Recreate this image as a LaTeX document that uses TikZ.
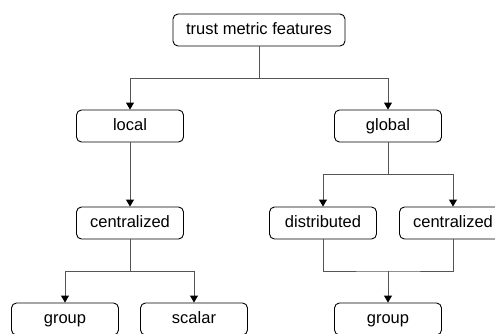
\documentclass[tikz,border=0pt]{standalone}
\usepackage{fontspec}
\setmainfont{Liberation Sans}
\usetikzlibrary{arrows.meta,positioning}
\definecolor{linegray}{HTML}{555555}
\tikzset{
	box/.style={draw=black, line width=0.9pt, rounded corners=5pt, fill=white,
		minimum width=107pt, minimum height=32pt, inner sep=0pt,
		text height=12pt, text depth=3.5pt,
		font=\fontsize{16.5}{20}\selectfont},
	wide/.style={minimum width=172pt},
	link/.style={draw=linegray, line width=1pt},
	>={Triangle[length=7pt,width=8pt,color=black]}
}
\begin{document}
\begin{tikzpicture}[x=1pt,y=-1pt]
		\useasboundingbox (0,0) rectangle (495,333);
		% tree levels
		\node[box, wide] (root) at (259,30) {trust metric features};
		\node[box] (local) at (130,126) {local};
		\node[box] (global) at (388,126) {global};
		\node[box] (lcent) at (130,223) {centralized};
		\node[box] (gdist) at (323,223) {distributed};
		\node[box] (gcent) at (453,223) {centralized};
		\node[box] (lgroup) at (65,319) {group};
		\node[box] (lscalar) at (194,319) {scalar};
		\node[box] (ggroup) at (388,319) {group};
		\coordinate (gjoin) at (388,271);
		% connectors
		\draw[link, ->] (root.south) -- ++(0,32) -| (local.north);
		\draw[link, ->] (root.south) -- ++(0,32) -| (global.north);
		\draw[link, ->] (local.south) -- (lcent.north);
		\draw[link, ->] (global.south) -- ++(0,32) -| (gdist.north);
		\draw[link, ->] (global.south) -- ++(0,32) -| (gcent.north);
		\draw[link, ->] (lcent.south) -- ++(0,32) -| (lgroup.north);
		\draw[link, ->] (lcent.south) -- ++(0,32) -| (lscalar.north);
		\draw[link] (gdist.south) |- (gjoin) -| (gcent.south);
		\draw[link, ->] (gjoin) -- (ggroup.north);
	\end{tikzpicture}
\end{document}
